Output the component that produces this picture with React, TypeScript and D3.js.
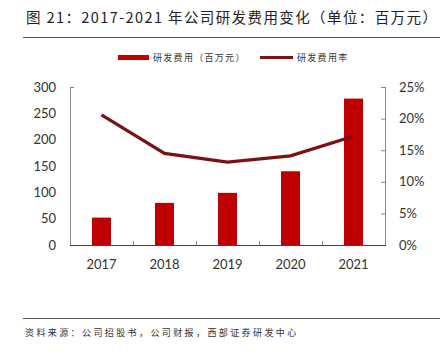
import React from "react";
import * as d3 from "d3";

const years = ["2017", "2018", "2019", "2020", "2021"];
const rdExpense = [52, 80, 99, 140, 278];
const rdRate = [20.6, 14.5, 13.1, 14.1, 17.2];
const leftTicks = [0, 50, 100, 150, 200, 250, 300];
const rightTicks = [0, 5, 10, 15, 20, 25];

const W = 442;
const H = 352;
const margin = { left: 70, right: 57, top: 87, bottom: 107 };

const cjk = "'Noto Sans CJK SC', 'Liberation Sans', sans-serif";
const num = "Lato, 'Liberation Sans', sans-serif";

export default function App() {
  const x = d3
    .scaleBand()
    .domain(years)
    .range([margin.left, W - margin.right]);
  const yL = d3.scaleLinear().domain([0, 300]).range([H - margin.bottom, margin.top]);
  const yR = d3.scaleLinear().domain([0, 25]).range([H - margin.bottom, margin.top]);
  const barW = 19;

  const line = d3
    .line<number>()
    .x((d, i) => x(years[i])! + x.bandwidth() / 2)
    .y(d => yR(d));

  const x0 = margin.left;
  const x1 = W - margin.right;
  const yb = H - margin.bottom;

  return (
    <svg
      width={W}
      height={H}
      style={{ position: "absolute", left: 0, top: 0, background: "#fff" }}
    >
      {/* title */}
      <text x={26} y={23} fontFamily={cjk} fontSize={14.5} letterSpacing={1.4} fill="#222">
        图 21：2017-2021 年公司研发费用变化（单位：百万元）
      </text>
      <line x1={23} x2={440} y1={37.5} y2={37.5} stroke="#555" strokeWidth={1} />

      {/* legend */}
      <rect x={118} y={55} width={31} height={5} fill="#C00000" />
      <text x={153} y={61} fontFamily={cjk} fontSize={9} letterSpacing={1.3} fill="#333">
        研发费用（百万元）
      </text>
      <line x1={260} x2={293} y1={57.5} y2={57.5} stroke="#7B1113" strokeWidth={3} />
      <text x={297} y={61} fontFamily={cjk} fontSize={9} letterSpacing={1.3} fill="#333">
        研发费用率
      </text>

      {/* bars */}
      {rdExpense.map((v, i) => (
        <rect
          key={years[i]}
          x={x(years[i])! + x.bandwidth() / 2 - barW / 2}
          y={yL(v)}
          width={barW}
          height={yb - yL(v)}
          fill="#C00000"
        />
      ))}

      {/* left axis */}
      <line x1={x0 + 0.5} x2={x0 + 0.5} y1={margin.top} y2={yb} stroke="#888" />
      <line x1={x0} x2={x0 + 4} y1={margin.top + 0.5} y2={margin.top + 0.5} stroke="#888" />
      {leftTicks.map(t => (
        <text
          key={t}
          x={56}
          y={yL(t) + 4.5}
          textAnchor="end"
          fontFamily={num}
          fontSize={13}
          fill="#333"
        >
          {t}
        </text>
      ))}

      {/* right axis */}
      <line x1={x1 + 0.5} x2={x1 + 0.5} y1={margin.top} y2={yb} stroke="#888" />
      {rightTicks.map(t => (
        <g key={t}>
          <line x1={x1 - 4} x2={x1} y1={yR(t) + 0.5} y2={yR(t) + 0.5} stroke="#888" />
          <text
            x={399}
            y={yR(t) + 4.5}
            fontFamily={num}
            fontSize={13}
            fill="#333"
          >
            {t}%
          </text>
        </g>
      ))}

      {/* bottom axis */}
      <line x1={x0} x2={x1 + 1} y1={yb + 0.5} y2={yb + 0.5} stroke="#444" />
      {years.map((yr, i) => (
        <g key={yr}>
          {i > 0 && (
            <line
              x1={x(yr)! + 0.5}
              x2={x(yr)! + 0.5}
              y1={yb}
              y2={yb - 4}
              stroke="#888"
            />
          )}
          <text
            x={x(yr)! + x.bandwidth() / 2}
            y={269}
            textAnchor="middle"
            fontFamily={num}
            fontSize={13}
            fill="#333"
          >
            {yr}
          </text>
        </g>
      ))}

      {/* rate line */}
      <path d={line(rdRate)!} fill="none" stroke="#7B1113" strokeWidth={3.2} />

      {/* footer */}
      <line x1={23} x2={440} y1={318.5} y2={318.5} stroke="#555" strokeWidth={1} />
      <text x={25} y={336} fontFamily={cjk} fontSize={9} letterSpacing={2.4} fill="#333">
        资料来源：公司招股书，公司财报，西部证券研发中心
      </text>
    </svg>
  );
}
